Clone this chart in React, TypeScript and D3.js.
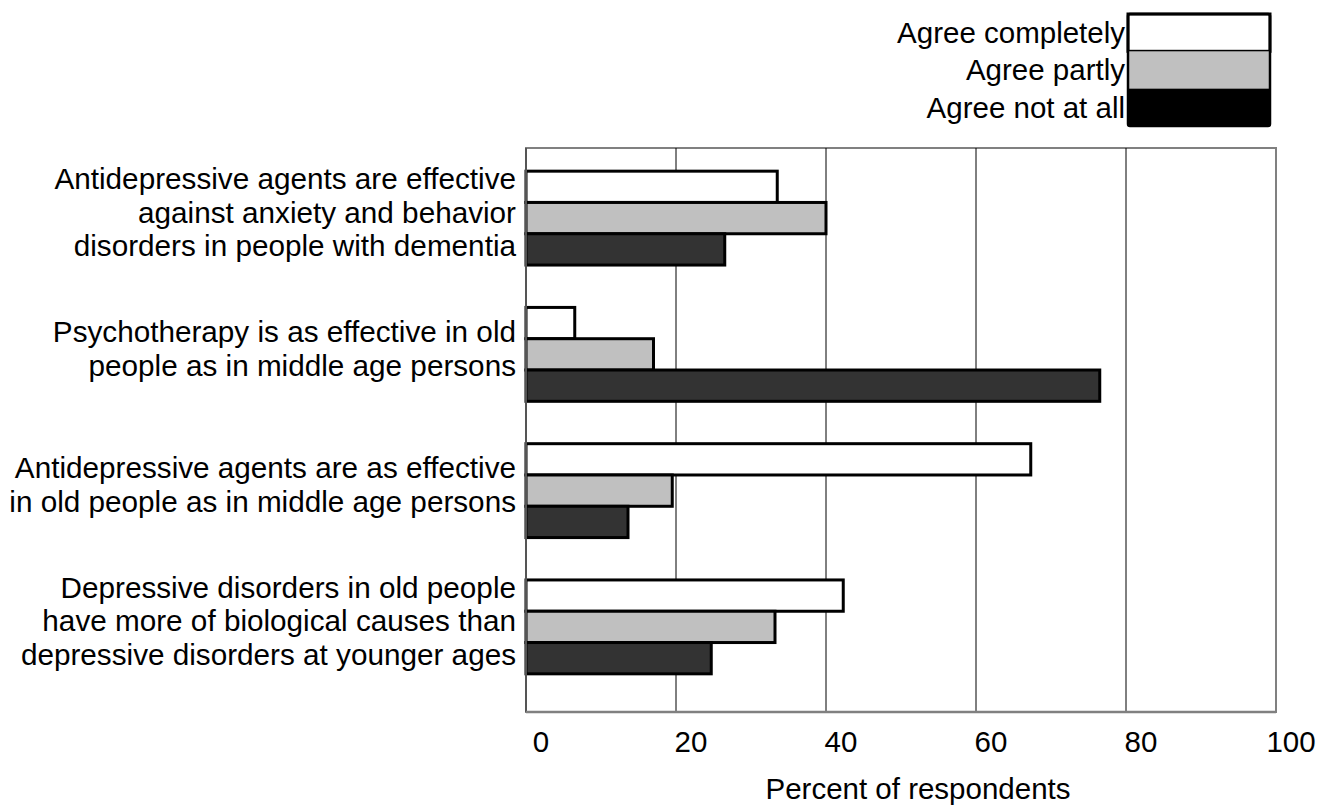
import React, { useEffect, useRef } from 'react';
import * as d3 from 'd3';

const categories = [
    ['Antidepressive agents are effective', 'against anxiety and behavior', 'disorders in people with dementia'],
    ['Psychotherapy is as effective in old', 'people as in middle age persons'],
    ['Antidepressive agents are as effective', 'in old people as in middle age persons'],
    ['Depressive disorders in old people', 'have more of biological causes than', 'depressive disorders at younger ages'],
];
const seriesNames = ['Agree completely', 'Agree partly', 'Agree not at all'];
const agreeCompletely = [33.5, 6.5, 67.3, 42.3];
const agreePartly = [40, 17, 19.5, 33.2];
const agreeNotAtAll = [26.5, 76.5, 13.6, 24.7];
const xTicks = [0, 20, 40, 60, 80, 100];
const xTitle = 'Percent of respondents';

const barFills = ['#ffffff', '#c0c0c0', '#333333'];
const legendFills = ['#ffffff', '#c0c0c0', '#000000'];
const FONT = '"Liberation Sans", Arial, Helvetica, sans-serif';

const App = () => {
    const svgRef = useRef(null);
    const width = 1320;
    const height = 807;
    const plot = { left: 526, right: 1276, top: 148, bottom: 712 };

    useEffect(() => {
        const svg = d3.select(svgRef.current);
        svg.selectAll('*').remove();

        const series = [agreeCompletely, agreePartly, agreeNotAtAll];
        const idx = categories.map((_, i) => i);

        const xScale = d3.scaleLinear()
            .domain([0, 100])
            .range([plot.left, plot.right]);

        // bar groups sit a bit above an even split of the frame, as in the original
        const yScale = d3.scaleBand()
            .domain(idx)
            .range([plot.top, plot.bottom - 15])
            .paddingInner(0.311)
            .paddingOuter(0.17);

        const ySub = d3.scaleBand()
            .domain([0, 1, 2])
            .range([0, yScale.bandwidth()]);

        // frame
        svg.append('rect')
            .attr('x', plot.left)
            .attr('y', plot.top)
            .attr('width', plot.right - plot.left)
            .attr('height', plot.bottom - plot.top)
            .attr('fill', 'none')
            .attr('stroke', '#808080')
            .attr('stroke-width', 2);

        // gridlines
        svg.append('g')
            .selectAll('line')
            .data(xTicks.slice(1, -1))
            .join('line')
            .attr('x1', d => xScale(d))
            .attr('x2', d => xScale(d))
            .attr('y1', plot.top)
            .attr('y2', plot.bottom)
            .attr('stroke', '#000')
            .attr('stroke-width', 1);

        // bars
        idx.forEach(ci => {
            const g = svg.append('g')
                .attr('transform', `translate(0, ${yScale(ci)})`);
            series.forEach((vals, si) => {
                g.append('rect')
                    .attr('x', xScale(0))
                    .attr('y', ySub(si))
                    .attr('width', xScale(vals[ci]) - xScale(0))
                    .attr('height', ySub.bandwidth())
                    .attr('fill', barFills[si])
                    .attr('stroke', '#000')
                    .attr('stroke-width', 3);
            });
        });

        // left axis line + bottom axis line
        svg.append('line')
            .attr('x1', plot.left).attr('x2', plot.left)
            .attr('y1', plot.top).attr('y2', plot.bottom)
            .attr('stroke', '#555').attr('stroke-width', 2);
        svg.append('line')
            .attr('x1', plot.left).attr('x2', plot.right)
            .attr('y1', plot.bottom).attr('y2', plot.bottom)
            .attr('stroke', '#808080').attr('stroke-width', 2.5);

        // category labels
        const lineH = 33.5;
        idx.forEach(ci => {
            const lines = categories[ci];
            const cy = yScale(ci) + yScale.bandwidth() / 2 - 6;
            const y0 = cy - ((lines.length - 1) * lineH) / 2;
            svg.append('text')
                .attr('text-anchor', 'end')
                .attr('font-family', FONT)
                .attr('font-size', 29.7)
                .attr('fill', '#000')
                .selectAll('tspan')
                .data(lines)
                .join('tspan')
                .attr('x', plot.left - 10)
                .attr('y', (d, i) => y0 + i * lineH)
                .attr('dy', '0.35em')
                .text(d => d);
        });

        // x tick labels
        svg.append('g')
            .selectAll('text')
            .data(xTicks)
            .join('text')
            .attr('x', d => xScale(d) + 15)
            .attr('y', 752)
            .attr('text-anchor', 'middle')
            .attr('font-family', FONT)
            .attr('font-size', 29.5)
            .text(d => d);

        svg.append('text')
            .attr('x', 918)
            .attr('y', 799)
            .attr('text-anchor', 'middle')
            .attr('font-family', FONT)
            .attr('font-size', 29.5)
            .text(xTitle);

        // legend
        const legend = { x: 1128, y: 14, w: 142, rowH: 37.3 };
        const lg = svg.append('g');
        seriesNames.forEach((name, i) => {
            lg.append('rect')
                .attr('x', legend.x)
                .attr('y', legend.y + i * legend.rowH)
                .attr('width', legend.w)
                .attr('height', legend.rowH)
                .attr('fill', legendFills[i])
                .attr('stroke', i === 0 ? '#000' : 'none')
                .attr('stroke-width', 3);
            lg.append('text')
                .attr('x', legend.x - 3)
                .attr('y', legend.y + i * legend.rowH + legend.rowH / 2)
                .attr('dy', '0.35em')
                .attr('text-anchor', 'end')
                .attr('font-family', FONT)
                .attr('font-size', 29.5)
                .text(name);
        });
        lg.append('rect')
            .attr('x', legend.x)
            .attr('y', legend.y)
            .attr('width', legend.w)
            .attr('height', legend.rowH * seriesNames.length)
            .attr('fill', 'none')
            .attr('stroke', '#000')
            .attr('stroke-width', 2.5)
            .attr('rx', 2);
    }, []);

    return (
        <svg
            ref={svgRef}
            width={width}
            height={height}
            style={{ position: 'absolute', left: 0, top: 0, background: '#fff' }}
        />
    );
};

export default App;
